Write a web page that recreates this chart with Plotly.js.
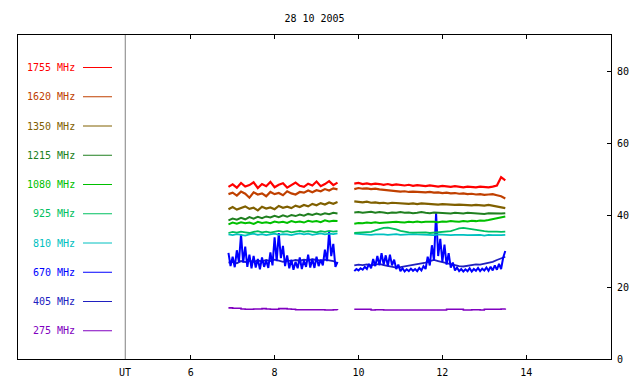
<!DOCTYPE html>
<html><head><meta charset="utf-8">
<script src="https://cdn.plot.ly/plotly-3.0.1.min.js"></script>
<style>body{margin:0;background:#fff}#c{width:640px;height:384px}</style>
</head><body><div id="c"></div>
<script>
// time (UT hours); 9.7 is a data gap
const timeUT = [6.9,7.0,7.1,7.2,7.3,7.4,7.5,7.6,7.7,7.8,7.9,8.0,8.1,8.2,8.3,8.4,8.5,8.6,8.7,8.8,8.9,9.0,9.1,9.2,9.3,9.4,9.5,
 9.7,
 9.9,10.0,10.1,10.2,10.3,10.4,10.5,10.6,10.7,10.8,10.9,11.0,11.1,11.2,11.3,11.4,11.5,11.6,11.7,11.8,11.9,12.0,12.1,12.2,12.3,12.4,12.5,12.6,12.7,12.8,12.9,13.0,13.1,13.2,13.3,13.4,13.5];

// finer time sampling for the burst-rich 670 MHz channel
const timeUT670 = [6.90,6.95,7.00,7.05,7.10,7.15,7.20,7.25,7.30,7.35,7.40,7.45,7.50,7.55,7.60,7.65,7.70,7.75,7.80,7.85,7.90,7.95,
 8.00,8.05,8.10,8.15,8.20,8.25,8.30,8.35,8.40,8.45,8.50,8.55,8.60,8.65,8.70,8.75,8.80,8.85,8.90,8.95,
 9.00,9.05,9.10,9.15,9.20,9.25,9.30,9.35,9.40,9.45,9.50,
 9.70,
 9.90,9.95,10.00,10.05,10.10,10.15,10.20,10.25,10.30,10.35,10.40,10.45,10.50,10.55,10.60,10.65,10.70,10.75,10.80,10.85,10.90,10.95,
 11.00,11.05,11.10,11.15,11.20,11.25,11.30,11.35,11.40,11.45,11.50,11.55,11.60,11.65,11.70,11.75,11.80,11.85,11.90,11.95,
 12.00,12.05,12.10,12.15,12.20,12.25,12.30,12.35,12.40,12.45,12.50,12.55,12.60,12.65,12.70,12.75,12.80,12.85,12.90,12.95,
 13.00,13.05,13.10,13.15,13.20,13.25,13.30,13.35,13.40,13.45,13.50];

const f1755 = [47.8,48.5,47.6,48.9,47.9,48.3,49.1,47.5,48.6,48.0,49.2,47.7,48.4,48.8,47.6,48.3,49.0,48.1,47.8,48.7,48.2,49.3,48.0,48.6,49.4,48.3,49.0,
 null,
 48.7,48.9,48.6,48.8,48.5,48.7,48.6,48.4,48.6,48.3,48.5,48.4,48.2,48.4,48.1,48.3,48.2,48.0,48.2,48.1,47.9,48.1,48.0,47.8,48.0,47.9,47.7,47.9,47.8,47.7,47.9,47.8,47.7,47.9,48.2,50.5,49.6];
const f1620 = [45.8,46.2,45.4,46.5,45.9,44.8,46.3,45.7,46.0,45.2,46.4,45.8,46.1,45.5,46.6,46.0,45.7,46.4,46.2,46.8,46.3,46.9,46.6,47.2,46.8,47.4,47.1,
 null,
 47.2,47.5,47.3,47.4,47.2,47.3,47.1,47.0,46.8,46.6,46.7,46.5,46.6,46.4,46.5,46.4,46.5,46.3,46.4,46.2,46.3,46.1,46.2,46.0,46.1,45.9,46.0,45.8,45.9,45.7,45.8,45.6,45.7,45.8,45.5,45.2,44.6];
const f1350 = [41.6,42.2,41.5,41.9,42.4,41.7,42.0,41.3,42.3,41.8,42.1,41.6,42.5,42.0,42.3,41.9,42.6,42.2,42.8,42.4,43.1,42.7,43.3,42.9,43.5,43.1,43.6,
 null,
 43.8,43.6,43.5,43.7,43.4,43.5,43.3,43.4,43.2,43.4,43.3,43.2,43.3,43.1,43.2,43.0,43.2,43.1,43.0,43.1,42.9,43.0,42.9,43.0,42.8,42.9,42.8,42.9,42.7,42.8,42.7,42.6,42.8,42.6,42.5,42.3,41.9];
const f1215 = [38.5,39.0,38.7,39.2,38.8,39.4,39.0,39.5,39.1,39.6,39.3,39.8,39.4,39.9,39.5,40.0,39.7,40.1,39.8,40.3,40.0,40.4,40.1,40.5,40.2,40.6,40.4,
 null,
 40.7,40.8,40.6,40.7,40.9,40.6,40.8,40.7,40.5,40.7,40.6,40.8,40.6,40.7,40.5,40.6,40.8,40.6,40.5,40.7,40.6,40.5,40.6,40.4,40.6,40.5,40.4,40.6,40.5,40.4,40.5,40.3,40.5,40.4,40.3,40.4,40.5];
const f1080 = [37.4,37.9,37.6,38.0,37.7,37.9,37.5,38.1,37.8,38.0,37.7,38.2,37.9,38.1,37.8,38.3,38.0,38.2,37.9,38.4,38.1,38.3,38.0,38.5,38.2,38.4,38.3,
 null,
 37.6,37.8,37.7,37.9,37.8,38.0,37.8,37.9,38.0,37.9,38.1,38.0,37.9,38.1,38.0,38.2,38.0,38.1,38.2,38.1,38.0,38.2,38.1,38.3,38.2,38.1,38.3,38.2,38.4,38.3,38.5,38.4,38.6,38.8,39.0,39.3,39.6];
const f925 = [35.0,35.3,35.1,35.4,35.2,35.0,35.3,35.5,35.2,35.4,35.1,35.3,35.6,35.3,35.5,35.2,35.4,35.6,35.3,35.5,35.4,35.2,35.5,35.3,35.6,35.4,35.5,
 null,
 35.0,35.1,35.0,35.2,35.3,35.7,36.1,36.4,36.5,36.3,36.0,35.6,35.3,35.2,35.1,35.2,35.1,35.2,35.0,35.1,35.2,35.1,35.3,35.5,35.9,36.3,36.4,36.2,36.0,35.7,35.6,35.5,35.4,35.5,35.4,35.3,35.4];
const f810 = [34.6,34.4,34.7,34.5,34.3,34.6,34.8,34.5,34.7,34.4,34.6,34.8,34.5,34.7,34.6,34.4,34.7,34.9,34.6,34.8,34.5,34.7,34.9,34.6,34.8,34.7,34.9,
 null,
 34.8,34.7,34.6,34.7,34.5,34.6,34.7,34.6,34.5,34.6,34.7,34.5,34.6,34.5,34.7,34.6,34.5,34.6,34.5,34.4,34.6,34.5,34.6,34.4,34.5,34.6,34.5,34.4,34.5,34.4,34.5,34.3,34.5,34.4,34.3,34.4,34.5];
const f670 = [29.5,25.8,28.4,25.5,30.2,27.0,34.6,26.8,31.2,25.6,29.0,25.2,28.6,25.4,27.8,24.9,28.2,25.6,27.4,25.3,29.6,26.0,
 33.8,27.2,35.0,28.0,31.4,25.8,28.8,25.2,27.6,24.8,27.0,25.2,28.2,25.0,27.4,25.6,29.0,25.4,27.8,25.3,
 28.4,25.8,27.6,26.0,30.4,27.2,35.4,28.6,32.0,25.6,27.0,
 null,
 24.4,25.0,24.6,25.2,24.8,25.6,25.0,26.4,25.2,27.8,25.8,28.6,26.0,29.4,26.2,28.8,25.8,29.0,26.0,27.6,25.0,26.2,
 24.4,25.2,24.3,24.9,24.4,25.1,24.5,25.0,24.4,25.3,24.6,25.8,25.0,28.4,26.0,31.6,27.4,40.5,28.6,33.4,
 27.0,31.8,26.2,29.4,25.4,26.8,24.6,25.4,24.4,25.0,24.3,24.9,24.4,25.2,24.3,25.0,24.5,25.3,24.4,25.1,
 24.6,25.4,24.5,25.6,24.6,26.0,24.8,26.4,25.0,28.2,30.0];
const f405 = [26.8,27.0,26.6,27.2,26.9,27.3,27.0,27.4,27.1,27.5,27.2,27.6,27.3,27.0,27.4,27.2,27.5,27.3,27.6,27.4,27.7,27.5,27.3,27.6,27.4,27.2,26.5,
 null,
 26.0,26.2,26.1,26.3,26.0,26.2,26.4,26.1,25.8,25.6,25.4,25.5,25.7,25.9,26.0,26.2,26.4,26.8,27.2,27.5,27.2,26.9,26.6,26.3,26.0,25.8,25.7,25.9,26.1,26.3,26.2,26.4,26.6,27.0,27.5,28.0,28.4];
const f275 = [14.2,14.1,14.1,13.9,13.8,13.8,13.9,13.9,14.0,13.9,13.8,13.8,14.0,14.0,13.9,13.8,13.7,13.7,13.7,13.7,13.7,13.7,13.7,13.6,13.6,13.7,13.6,
 null,
 13.8,13.8,13.8,13.8,13.6,13.7,13.7,13.6,13.6,13.6,13.6,13.6,13.6,13.6,13.6,13.6,13.6,13.6,13.6,13.6,13.6,13.6,13.8,13.8,13.8,13.8,13.6,13.6,13.7,13.7,13.6,13.8,13.8,13.8,13.8,13.9,14.0];

const labels = ['1755 MHz','1620 MHz','1350 MHz','1215 MHz','1080 MHz','925 MHz','810 MHz','670 MHz','405 MHz','275 MHz'];
const series = [f1755,f1620,f1350,f1215,f1080,f925,f810,f670,f405,f275];
const times  = [timeUT,timeUT,timeUT,timeUT,timeUT,timeUT,timeUT,timeUT670,timeUT,timeUT];
const colors = ['#ff0000','#c04000','#806000','#208020','#00c000','#00c060','#00c0c0','#0000ff','#2020c0','#8000c0'];
const widths = [2.2,2.2,2.2,2,2,1.8,1.8,2,1.8,1.6];
const xTicks = [6,8,10,12,14];
const yTicks = [0,20,40,60,80];
const utPos = 4.44;

const order = [9,8,7,6,5,4,3,2,1,0];
const traces = order.map(i => ({
  x: times[i], y: series[i], type: 'scatter', mode: 'lines', name: labels[i],
  line: {color: colors[i], width: widths[i], shape: i === 9 ? 'hv' : 'linear'},
  connectgaps: false, hoverinfo: 'skip'
}));

const W = 640, H = 384, L = 18, R = 611, T = 35, B = 359;
const px = x => (x - L) / (R - L);
const py = y => (B - y) / (B - T);
const font = {family: 'DejaVu Sans Mono, monospace', size: 10, color: '#000'};

const annotations = [];
const shapes = [];
labels.forEach((lab, i) => {
  const yy = 67.5 + i * 29.25;
  annotations.push({xref: 'paper', yref: 'paper', x: px(76.5), y: py(yy), xanchor: 'right', yanchor: 'middle',
    text: lab, showarrow: false, font: {family: font.family, size: 10, color: colors[i]}});
  shapes.push({type: 'line', xref: 'paper', yref: 'paper', x0: px(83), x1: px(112), y0: py(yy), y1: py(yy),
    line: {color: colors[i], width: 1}});
});
shapes.push({type: 'line', xref: 'x', yref: 'paper', x0: utPos, x1: utPos, y0: 0, y1: 1,
  line: {color: '#808080', width: 1}});
annotations.push({xref: 'x', yref: 'paper', x: utPos, y: py(372), xanchor: 'center', yanchor: 'middle',
  text: 'UT', showarrow: false, font: font});

const layout = {
  width: W, height: H,
  margin: {l: L, r: W - R, t: T, b: H - B, pad: 0},
  paper_bgcolor: '#fff', plot_bgcolor: '#fff',
  showlegend: false,
  font: font,
  title: {text: '28 10 2005', font: font, x: 0.5, xref: 'paper', xanchor: 'center', y: 1 - 18 / H, yanchor: 'middle'},
  xaxis: {range: [1.883, 16.02], tickvals: xTicks, ticktext: xTicks.map(String), ticks: 'inside', ticklen: 4,
    tickcolor: '#000', showline: true, linecolor: '#000', linewidth: 1, mirror: 'ticks', ticklabelstandoff: 4,
    showgrid: false, zeroline: false, tickfont: font, fixedrange: true},
  yaxis: {range: [0, 90], side: 'right', tickvals: yTicks, ticktext: yTicks.map(String), ticks: 'inside', ticklen: 4,
    tickcolor: '#000', showline: true, linecolor: '#000', linewidth: 1, mirror: true, ticklabelstandoff: 3,
    showgrid: false, zeroline: false, tickfont: font, fixedrange: true},
  annotations: annotations,
  shapes: shapes
};

Plotly.newPlot('c', traces, layout, {staticPlot: true, displayModeBar: false});
</script></body></html>
